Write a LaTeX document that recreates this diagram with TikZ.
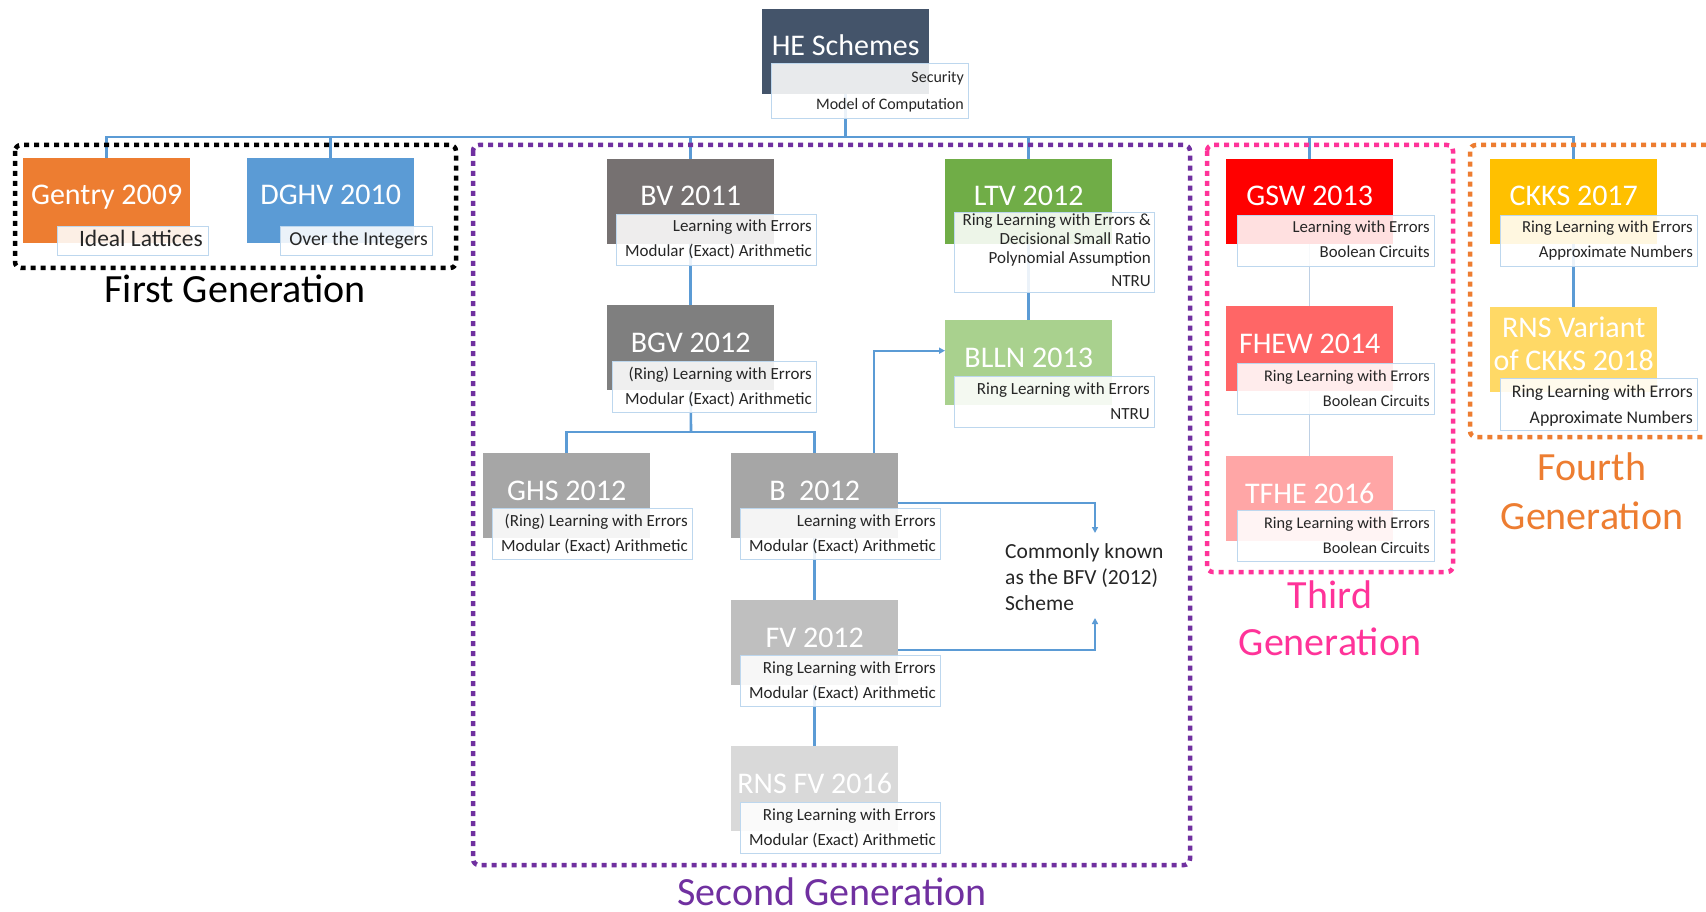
\documentclass[tikz,border=0pt]{standalone}
\usepackage{fontspec}
\setmainfont{Carlito}
\usetikzlibrary{arrows.meta}
\pgfdeclarelayer{bg}
\pgfsetlayers{bg,main}
\definecolor{hec}{RGB}{68,84,106}
\definecolor{gentryc}{RGB}{237,125,49}
\definecolor{dghvc}{RGB}{91,155,213}
\definecolor{bvc}{RGB}{118,113,113}
\definecolor{bgvc}{RGB}{127,127,127}
\definecolor{ghsc}{RGB}{166,166,166}
\definecolor{fvc}{RGB}{191,191,191}
\definecolor{rnsfvc}{RGB}{217,217,217}
\definecolor{ltvc}{RGB}{112,173,71}
\definecolor{bllnc}{RGB}{169,209,142}
\definecolor{gswc}{RGB}{255,0,0}
\definecolor{fhewc}{RGB}{255,102,102}
\definecolor{tfhec}{RGB}{255,166,166}
\definecolor{ckksc}{RGB}{255,192,0}
\definecolor{rnsckksc}{RGB}{255,217,102}
\definecolor{subline}{RGB}{189,215,238}
\definecolor{subtext}{RGB}{38,38,38}
\definecolor{linec}{RGB}{91,155,213}
\definecolor{thinlinec}{RGB}{190,208,228}
\definecolor{purplec}{RGB}{112,48,160}
\definecolor{pinkc}{RGB}{255,51,153}
\definecolor{orangec}{RGB}{237,125,49}
\newcommand\setfs[1]{\fontsize{#1}{#1}\selectfont}
\tikzset{
  tbox/.style={rectangle, anchor=north west, minimum width=167pt, minimum height=85pt, inner sep=0pt, draw=none},
  ttl/.style={anchor=base, text=white, font=\setfs{30}, inner sep=0pt},
  sbox/.style={rectangle, anchor=north west, draw=subline, line width=1pt, fill=white, fill opacity=0.88, minimum height=51pt, inner sep=0pt},
  stx/.style={anchor=base east, text=subtext, font=\setfs{17}, inner sep=0pt},
  conn/.style={draw=linec, line width=2.6pt},
  thinconn/.style={draw=thinlinec, line width=1.3pt},
  arr/.style={draw=linec, line width=2pt, -{Triangle[length=6pt,width=6pt]}},
  gbox/.style={line width=4.5pt, dash pattern=on 5pt off 5pt, rounded corners=6pt},
  glab/.style={anchor=base, font=\setfs{40}, inner sep=0pt},
  note/.style={anchor=base west, text=subtext, font=\setfs{21.5}, inner sep=0pt}
}
\newcommand\ttlbox[5]{%
  \node[tbox, fill=#4] (#1) at (#2,#3) {};
  \node[ttl] (#1-t) at ([yshift=-47pt]#1.north) {#5};
}
\newcommand\subtwo[7]{%
  \node[sbox, minimum width=#4pt] (#1) at (#2,#3) {};
  \node[stx, font=\setfs{#5}] (#1-a) at ([xshift=-5pt,yshift=-18pt]#1.north east) {#6};
  \node[stx, font=\setfs{#5}] (#1-b) at ([xshift=-5pt,yshift=-43pt]#1.north east) {#7};
}
\begin{document}
\begin{tikzpicture}[x=1pt,y=-1pt]
\useasboundingbox (0,0) rectangle (1706,912);
\begin{pgfonlayer}{bg}
\fill[white] (0,0) rectangle (1706,912);
\end{pgfonlayer}

% generation frames
\draw[gbox, draw=black] (15,145) rectangle (456,268);
\draw[gbox, draw=purplec] (473,145) rectangle (1190,865);
\draw[gbox, draw=pinkc] (1207,145) rectangle (1453,572);
\draw[gbox, draw=orangec] (1716,145) -- (1470,145) -- (1470,437) -- (1716,437);

% root
\ttlbox{he}{762}{9}{hec}{HE Schemes}
\node[sbox, minimum width=197pt, minimum height=55pt] (hes) at (771,63) {};
\node[stx, font=\setfs{16}] (hes-a) at ([xshift=-5pt,yshift=-20pt]hes.north east) {Security};
\node[stx, font=\setfs{16}] (hes-b) at ([xshift=-5pt,yshift=-47pt]hes.north east) {Model of Computation};

% first generation
\ttlbox{gentry}{23}{158}{gentryc}{Gentry 2009}
\node[sbox, minimum width=151pt, minimum height=29pt] (gentrys) at (57,226) {};
\node[stx, font=\setfs{23.5}] (gentrys-a) at ([xshift=-6pt,yshift=-21pt]gentrys.north east) {Ideal Lattices};
\ttlbox{dghv}{247}{158}{dghvc}{DGHV 2010}
\node[sbox, minimum width=152pt, minimum height=29pt] (dghvs) at (280,226) {};
\node[stx, font=\setfs{19.7}] (dghvs-a) at ([xshift=-5pt,yshift=-20pt]dghvs.north east) {Over the Integers};

% second generation
\ttlbox{bv}{607}{159}{bvc}{BV 2011}
\subtwo{bvs}{616}{214}{200}{17}{Learning with Errors}{Modular (Exact) Arithmetic}
\ttlbox{bgv}{607}{305}{bgvc}{BGV 2012}
\subtwo{bgvs}{612}{361}{204}{17}{(Ring) Learning with Errors}{Modular (Exact) Arithmetic}
\ttlbox{ghs}{483}{453}{ghsc}{GHS 2012}
\subtwo{ghss}{492}{508}{200}{17}{(Ring) Learning with Errors}{Modular (Exact) Arithmetic}
\ttlbox{b}{731}{453}{ghsc}{B\ \ 2012}
\subtwo{bs}{740}{508}{200}{17}{Learning with Errors}{Modular (Exact) Arithmetic}
\ttlbox{fv}{731}{600}{fvc}{FV 2012}
\subtwo{fvs}{740}{655}{200}{17}{Ring Learning with Errors}{Modular (Exact) Arithmetic}
\ttlbox{rnsfv}{731}{746}{rnsfvc}{RNS FV 2016}
\subtwo{rnsfvs}{740}{802}{200}{17}{Ring Learning with Errors}{Modular (Exact) Arithmetic}
\ttlbox{ltv}{945}{159}{ltvc}{LTV 2012}
\node[sbox, minimum width=200pt, minimum height=80pt] (ltvs) at (954,212) {};
\node[stx] (ltvs-a) at ([xshift=-4pt,yshift=-14pt]ltvs.north east) {Ring Learning with Errors \&};
\node[stx] (ltvs-b) at ([xshift=-4pt,yshift=-32pt]ltvs.north east) {Decisional Small Ratio};
\node[stx] (ltvs-c) at ([xshift=-4pt,yshift=-51pt]ltvs.north east) {Polynomial Assumption};
\node[stx] (ltvs-d) at ([xshift=-4pt,yshift=-75pt]ltvs.north east) {NTRU};
\ttlbox{blln}{945}{320}{bllnc}{BLLN 2013}
\subtwo{bllns}{954}{376}{200}{17}{Ring Learning with Errors}{NTRU}

\node[note] (n1) at (1005,558) {Commonly known};
\node[note] (n2) at (1005,584) {as the BFV (2012)};
\node[note] (n3) at (1005,610) {Scheme};
\coordinate (bfv1) at (1095,533);
\coordinate (bfv2) at (1095,618);

% third generation
\ttlbox{gsw}{1226}{159}{gswc}{GSW 2013}
\subtwo{gsws}{1237}{215}{197}{16.8}{Learning with Errors}{Boolean Circuits}
\ttlbox{fhew}{1226}{306}{fhewc}{FHEW 2014}
\subtwo{fhews}{1237}{363}{197}{16.3}{Ring Learning with Errors}{Boolean Circuits}
\ttlbox{tfhe}{1226}{456}{tfhec}{TFHE 2016}
\subtwo{tfhes}{1237}{510}{197}{16.3}{Ring Learning with Errors}{Boolean Circuits}

% fourth generation
\ttlbox{ckks}{1490}{159}{ckksc}{CKKS 2017}
\subtwo{ckkss}{1500}{215}{197}{16.8}{Ring Learning with Errors}{Approximate Numbers}
\node[tbox, fill=rnsckksc] (rnsckks) at (1490,307) {};
\node[ttl] (rnsckks-t1) at ([yshift=-30pt]rnsckks.north) {RNS Variant};
\node[ttl] (rnsckks-t2) at ([yshift=-63pt]rnsckks.north) {of CKKS 2018};
\node[sbox, minimum width=197pt, minimum height=52pt] (rnsckkss) at (1500,378) {};
\node[stx, font=\setfs{17.8}] (rnsckkss-a) at ([xshift=-5pt,yshift=-19pt]rnsckkss.north east) {Ring Learning with Errors};
\node[stx, font=\setfs{17.8}] (rnsckkss-b) at ([xshift=-5pt,yshift=-45pt]rnsckkss.north east) {Approximate Numbers};

% generation labels
\node[glab, text=black] (g1) at (235,302) {First Generation};
\node[glab, text=purplec] (g2) at (832,905) {Second Generation};
\node[glab, text=pinkc] (g3a) at (1330,608) {Third};
\node[glab, text=pinkc] (g3b) at (1330,655) {Generation};
\node[glab, text=orangec] (g4a) at (1592,480) {Fourth};
\node[glab, text=orangec] (g4b) at (1592,529) {Generation};

% connectors
\coordinate (bus) at (845,137);
\coordinate (brk) at (691,432);
\begin{pgfonlayer}{bg}
\draw[conn] (he.south) -- (he.south |- bus);
\draw[conn] (gentry.north) |- (bus -| ckks.north) -- (ckks.north);
\foreach \n in {dghv,bv,ltv,gsw} {\draw[conn] (\n.north) -- (\n.north |- bus);}
\draw[conn] (bv.south) -- (bgv.north);
\draw[conn] (bgv.south) -- (brk);
\draw[conn] (ghs.north) |- (brk) -| (b.north);
\draw[conn] (b.south) -- (fv.north);
\draw[conn] (fv.south) -- (rnsfv.north);
\draw[conn] (ltv.south) -- (blln.north);
\draw[conn] (ckks.south) -- (rnsckks.north);
\draw[thinconn] (gsw.south) -- (fhew.north);
\draw[thinconn] (fhew.south) -- (tfhe.north);
\draw[arr] ([xshift=59pt]b.north) |- ([yshift=12pt]blln.west);
\draw[arr] ([yshift=-7.5pt]b.east) -| (bfv1);
\draw[arr] ([yshift=-7.5pt]fv.east) -| (bfv2);
\end{pgfonlayer}
\end{tikzpicture}
\end{document}
